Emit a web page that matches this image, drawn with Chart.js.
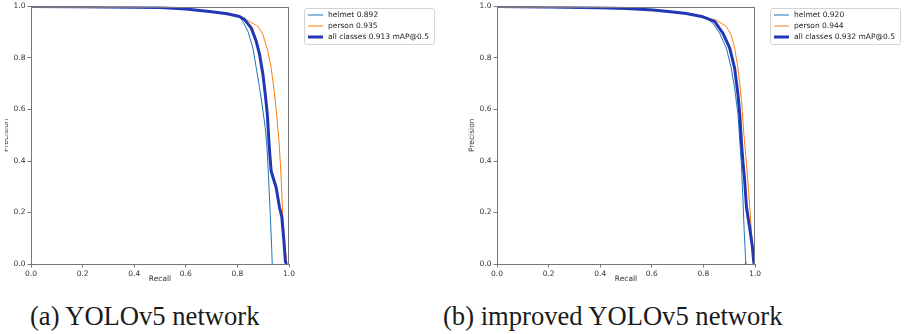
<!DOCTYPE html>
<html lang="en">
<head>
<meta charset="UTF-8">
<title>PR curves</title>
<script src="https://cdn.jsdelivr.net/npm/chart.js@4.4.0/dist/chart.umd.min.js"></script>
<style>
  html, body { margin: 0; padding: 0; background: #fff; }
  body { width: 908px; height: 334px; position: relative; overflow: hidden; }
  .clip { position: absolute; top: 0; height: 288px; overflow: hidden; }
  .box { position: absolute; top: 0; width: 440px; height: 288px; }
  .caption { position: absolute; top: 301px; font-family: "Liberation Serif", "DejaVu Serif", serif;
             font-size: 26.6px; color: #1a1a1a; white-space: nowrap; }
</style>
</head>
<body>

<div class="clip" style="left:5px; width:440px;">
  <div class="box" style="left:-3px;"><canvas id="chartA"></canvas></div>
</div>
<div class="clip" style="left:468px; width:440px;">
  <div class="box" style="left:0;"><canvas id="chartB"></canvas></div>
</div>

<div class="caption" style="left:30px;">(a) YOLOv5 network</div>
<div class="caption" style="left:443px;">(b) improved YOLOv5 network</div>

<script>
// (a) YOLOv5
var recallHelmetA    = [0, 0.2, 0.4, 0.5, 0.6, 0.7, 0.76, 0.808, 0.821, 0.841, 0.86, 0.873, 0.886, 0.899, 0.908, 0.915, 0.921, 0.927, 0.933, 0.935];
var precisionHelmetA = [1, 0.999, 0.997, 0.996, 0.99, 0.98, 0.972, 0.961, 0.942, 0.903, 0.839, 0.762, 0.685, 0.595, 0.53, 0.45, 0.33, 0.2, 0.06, 0];
var recallPersonA    = [0, 0.2, 0.4, 0.5, 0.6, 0.7, 0.76, 0.808, 0.847, 0.879, 0.899, 0.918, 0.931, 0.944, 0.953, 0.961, 0.966, 0.970, 0.976, 0.983, 0.986, 0.988];
var precisionPersonA = [1, 0.999, 0.997, 0.995, 0.99, 0.98, 0.972, 0.961, 0.942, 0.923, 0.891, 0.826, 0.762, 0.659, 0.569, 0.479, 0.4, 0.324, 0.183, 0.093, 0.04, 0];
var recallAllA       = [0, 0.2, 0.4, 0.5, 0.6, 0.7, 0.76, 0.808, 0.828, 0.854, 0.873, 0.886, 0.899, 0.908, 0.916, 0.922, 0.926, 0.931, 0.940, 0.950, 0.963, 0.972, 0.980, 0.986, 0.99];
var precisionAllA    = [1, 0.999, 0.997, 0.996, 0.99, 0.98, 0.972, 0.961, 0.949, 0.916, 0.865, 0.814, 0.736, 0.659, 0.582, 0.479, 0.42, 0.36, 0.33, 0.298, 0.221, 0.183, 0.093, 0.01, 0];
var labelsA = ["helmet 0.892", "person 0.935", "all classes 0.913 mAP@0.5"];

// (b) improved YOLOv5
var recallHelmetB    = [0, 0.2, 0.398, 0.501, 0.605, 0.682, 0.734, 0.798, 0.818, 0.837, 0.863, 0.889, 0.908, 0.921, 0.934, 0.941, 0.947, 0.953, 0.958, 0.964, 0.964];
var precisionHelmetB = [1, 0.998, 0.995, 0.992, 0.986, 0.979, 0.973, 0.96, 0.952, 0.934, 0.896, 0.838, 0.761, 0.683, 0.581, 0.478, 0.39, 0.259, 0.13, 0.008, 0];
var recallPersonB    = [0, 0.2, 0.398, 0.501, 0.605, 0.682, 0.734, 0.798, 0.818, 0.850, 0.889, 0.908, 0.921, 0.934, 0.943, 0.951, 0.957, 0.967, 0.977, 0.986, 0.995, 0.997];
var precisionPersonB = [1, 0.998, 0.995, 0.992, 0.986, 0.979, 0.973, 0.96, 0.955, 0.947, 0.922, 0.889, 0.838, 0.761, 0.683, 0.593, 0.503, 0.388, 0.259, 0.13, 0.02, 0];
var recallAllB       = [0, 0.2, 0.398, 0.501, 0.605, 0.682, 0.734, 0.798, 0.818, 0.844, 0.876, 0.902, 0.921, 0.934, 0.941, 0.947, 0.953, 0.960, 0.967, 0.979, 0.990, 0.995, 0.997];
var precisionAllB    = [1, 0.998, 0.995, 0.992, 0.986, 0.979, 0.973, 0.96, 0.952, 0.941, 0.896, 0.838, 0.761, 0.658, 0.581, 0.478, 0.40, 0.323, 0.220, 0.143, 0.066, 0.008, 0];
var labelsB = ["helmet 0.920", "person 0.944", "all classes 0.932 mAP@0.5"];

var axisTicks = [0, 0.2, 0.4, 0.6, 0.8, 1.0];

var seriesColors = ["#1f77b4", "#ff7f0e", "#2336b4"];
var seriesWidths = [1, 1, 3];
var FONT = "DejaVu Sans";

function points(xs, ys) {
    return xs.map(function (x, i) { return { x: x, y: ys[i] }; });
}

// frame on all four sides, like matplotlib spines
var framePlugin = {
    id: 'frame',
    afterDatasetsDraw: function (chart) {
        var a = chart.chartArea, ctx = chart.ctx;
        ctx.save();
        ctx.strokeStyle = '#777';
        ctx.lineWidth = 1;
        ctx.strokeRect(Math.round(a.left) + 0.5, Math.round(a.top) + 0.5,
                       Math.round(a.right - a.left) - 1, Math.round(a.bottom - a.top) - 1);
        ctx.restore();
    }
};

// matplotlib style legend box outside the axes
var legendPlugin = {
    id: 'mplLegend',
    afterDraw: function (chart) {
        var ctx = chart.ctx, a = chart.chartArea;
        var ds = chart.data.datasets;
        var x0 = a.right + 15, y0 = 8, w = 130, h = 36;
        ctx.save();
        ctx.fillStyle = 'rgba(255,255,255,0.8)';
        ctx.strokeStyle = '#d4d4d4';
        ctx.lineWidth = 1;
        ctx.beginPath();
        ctx.roundRect(x0 + 0.5, y0 + 0.5, w, h, 2);
        ctx.fill();
        ctx.stroke();
        ctx.font = '7.5px "' + FONT + '"';
        ctx.textBaseline = 'middle';
        ctx.fillStyle = '#222';
        ds.forEach(function (d, i) {
            var y = y0 + 7 + i * 11;
            ctx.strokeStyle = d.borderColor;
            ctx.lineWidth = d.borderWidth;
            ctx.beginPath();
            ctx.moveTo(x0 + 4, y);
            ctx.lineTo(x0 + 19, y);
            ctx.stroke();
            ctx.fillText(d.label, x0 + 24, y + 0.5);
        });
        ctx.restore();
    }
};

function makeChart(id, labels, rH, pH, rP, pP, rA, pA) {
    var datasets = [
        { label: labels[0], data: points(rH, pH), order: 2 },
        { label: labels[1], data: points(rP, pP), order: 1 },
        { label: labels[2], data: points(rA, pA), order: 0 }
    ].map(function (d, i) {
        d.borderColor = seriesColors[i];
        d.backgroundColor = seriesColors[i];
        d.borderWidth = seriesWidths[i];
        d.pointRadius = 0;
        d.tension = 0;
        d.fill = false;
        d.borderJoinStyle = 'round';
        return d;
    });

    var tickCfg = {
        font: { family: FONT, size: 7.5 },
        color: '#333',
        padding: 2,
        autoSkip: false,
        callback: function (v) { return v.toFixed(1); }
    };
    var gridCfg = { display: true, drawOnChartArea: false, drawTicks: true, tickLength: 3.5, color: '#777' };

    return new Chart(document.getElementById(id), {
        type: 'line',
        data: { datasets: datasets },
        options: {
            responsive: true,
            maintainAspectRatio: false,
            animation: false,
            layout: { padding: { left: 0, top: 5, right: 153, bottom: 0 } },
            plugins: { legend: { display: false }, tooltip: { enabled: false } },
            scales: {
                x: {
                    type: 'linear', min: 0, max: 1,
                    afterBuildTicks: function (s) { s.ticks = axisTicks.map(function (v) { return { value: v }; }); },
                    ticks: tickCfg,
                    grid: gridCfg,
                    border: { display: false },
                    title: { display: true, text: 'Recall', color: '#333',
                             font: { family: FONT, size: 7.5 }, padding: { top: 0, bottom: 4.5 } },
                    afterFit: function (s) { s.height = 24; }
                },
                y: {
                    type: 'linear', min: 0, max: 1,
                    afterBuildTicks: function (s) { s.ticks = axisTicks.map(function (v) { return { value: v }; }); },
                    ticks: tickCfg,
                    grid: gridCfg,
                    border: { display: false },
                    title: { display: true, text: 'Precision', color: '#333',
                             font: { family: FONT, size: 7.5 }, padding: { top: 0, bottom: 0 } },
                    afterFit: function (s) { s.width = 29; }
                }
            }
        },
        plugins: [framePlugin, legendPlugin]
    });
}

makeChart('chartA', labelsA, recallHelmetA, precisionHelmetA, recallPersonA, precisionPersonA, recallAllA, precisionAllA);
makeChart('chartB', labelsB, recallHelmetB, precisionHelmetB, recallPersonB, precisionPersonB, recallAllB, precisionAllB);
</script>
</body>
</html>
